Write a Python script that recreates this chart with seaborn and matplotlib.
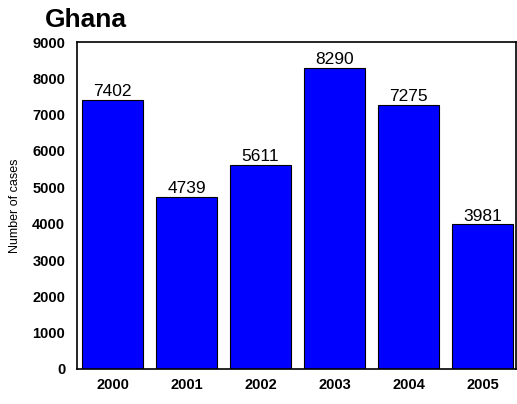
import pandas as pd
import matplotlib
matplotlib.use("Agg")
import matplotlib.pyplot as plt
import seaborn as sns

years = ['2000', '2001', '2002', '2003', '2004', '2005']
cases = [7402, 4739, 5611, 8290, 7275, 3981]

df = pd.DataFrame({'Year': years, 'Cases': cases})

sns.set_style("white")
plt.rcParams['font.family'] = ['Liberation Sans', 'DejaVu Sans']
plt.rcParams['text.color'] = 'black'
plt.rcParams['axes.labelcolor'] = 'black'
plt.rcParams['xtick.color'] = 'black'
plt.rcParams['ytick.color'] = 'black'

fig = plt.figure(figsize=(5.17, 4.04), dpi=100)
ax = fig.add_axes([77 / 517, 1 - 369 / 404, (516 - 77) / 517, (369 - 42) / 404])

sns.barplot(data=df, x='Year', y='Cases', color='#0000FF', saturation=1,
            edgecolor='black', linewidth=0.8, width=0.82, ax=ax)

# valores no topo das barras
for p, v in zip(ax.patches, cases):
    ax.annotate(f'{v}', (p.get_x() + p.get_width() / 2., p.get_height()),
                ha='center', va='bottom', xytext=(0, 0.5),
                textcoords='offset points', fontsize=12.5)

ax.set_ylim(0, 9000)
ax.set_xlim(-0.48, 5.45)
ax.set_yticks(range(0, 9001, 1000))
ax.set_xlabel('')
ax.set_ylabel('Number of cases', fontsize=9, labelpad=8)
ax.tick_params(axis='y', length=0, labelsize=10.5, pad=8.5)
ax.tick_params(axis='x', length=0, labelsize=10.5, pad=6.5)
for lbl in ax.get_xticklabels() + ax.get_yticklabels():
    lbl.set_fontweight('bold')
for s in ax.spines.values():
    s.set_color('black')
    s.set_linewidth(1.2)

fig.text(45 / 517, 1 - 27 / 404, 'Ghana', fontsize=19, fontweight='bold')

fig.savefig('out.png', dpi=100)
